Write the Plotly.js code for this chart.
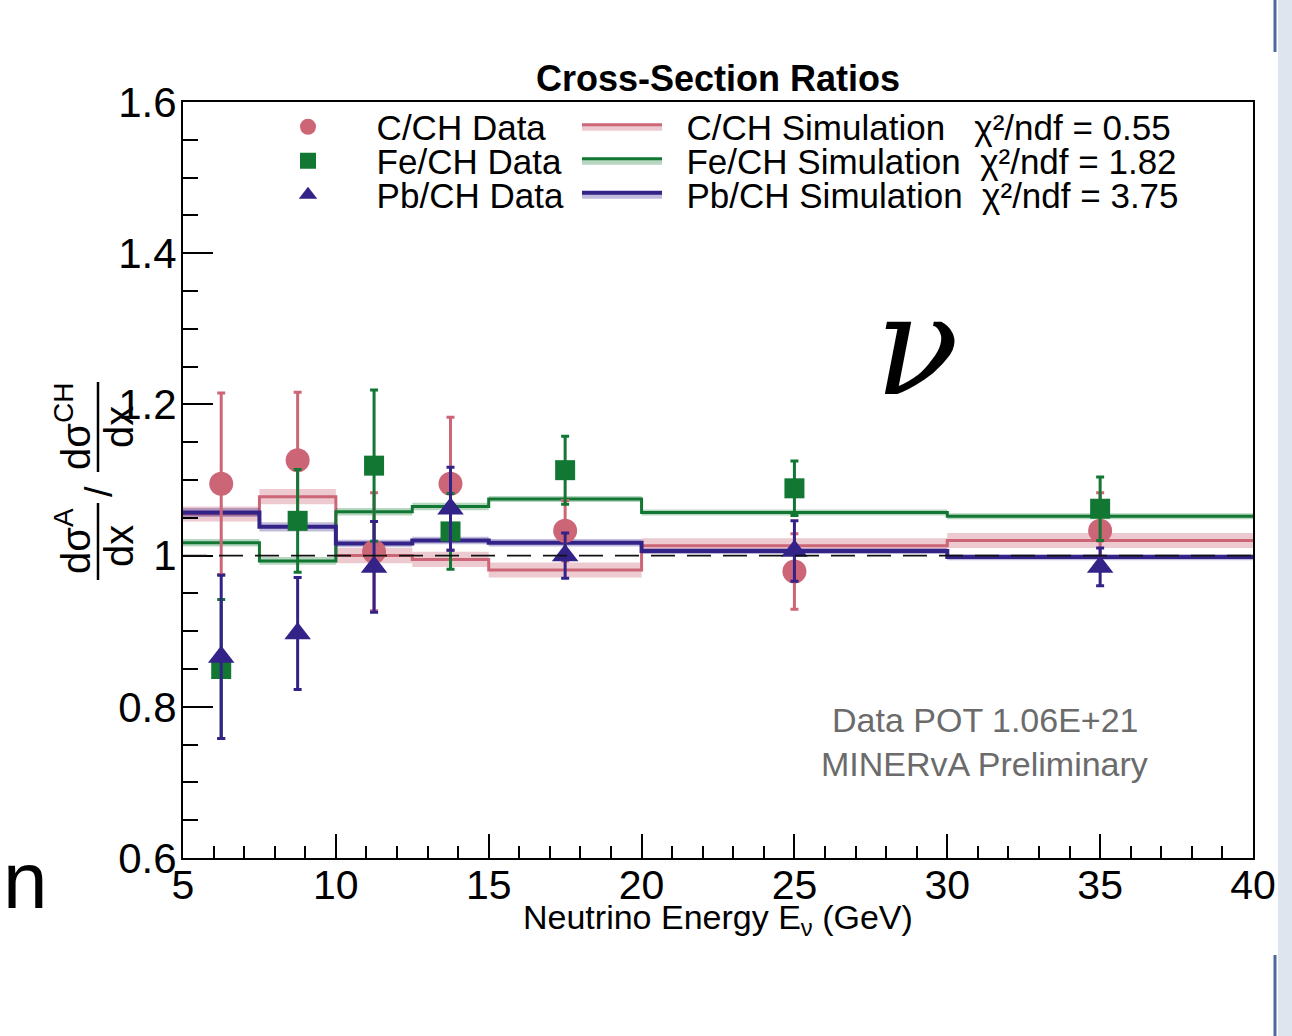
<!DOCTYPE html>
<html>
<head>
<meta charset="utf-8">
<script src="https://cdn.plot.ly/plotly-3.0.1.min.js"></script>
<style>
html, body { margin: 0; padding: 0; background: #ffffff; }
#chart { width: 1292px; height: 1036px; }
</style>
</head>
<body>
<div id="chart"></div>
<script>
// ---- data ----
const binEdges = [5, 7.5, 10, 12.5, 15, 20, 30, 40];
const cSim  = [1.055, 1.078, 1.000, 0.995, 0.981, 1.013, 1.020];
const feSim = [1.017, 0.993, 1.058, 1.065, 1.075, 1.057, 1.052];
const pbSim = [1.057, 1.038, 1.016, 1.020, 1.017, 1.006, 0.998];
const cBand  = [0.010, 0.010, 0.010, 0.010, 0.010, 0.010, 0.010];
const feBand = [0.005, 0.005, 0.005, 0.005, 0.004, 0.004, 0.004];
const pbBand = [0.006, 0.006, 0.005, 0.005, 0.005, 0.004, 0.004];

const energy = [6.25, 8.75, 11.25, 13.75, 17.5, 25, 35];
const cData  = [1.095, 1.126, 1.005, 1.095, 1.033, 0.979, 1.033];
const cErr   = [0.120, 0.090, 0.078, 0.088, 0.040, 0.050, 0.050];
const feData = [0.850, 1.046, 1.119, 1.032, 1.113, 1.089, 1.062];
const feErr  = [0.092, 0.068, 0.100, 0.050, 0.045, 0.036, 0.042];
const pbData = [0.866, 0.897, 0.985, 1.062, 1.000, 1.006, 0.985];
const pbErr  = [0.108, 0.074, 0.060, 0.055, 0.030, 0.040, 0.025];

const dataNames = ['C/CH Data', 'Fe/CH Data', 'Pb/CH Data'];
const simNames  = ['C/CH Simulation', 'Fe/CH Simulation', 'Pb/CH Simulation'];
const chi2      = ['0.55', '1.82', '3.75'];

const xTickVals = [5, 10, 15, 20, 25, 30, 35, 40];
const yTickVals = [0.6, 0.8, 1.0, 1.2, 1.4, 1.6];
const yTickText = ['0.6', '0.8', '1', '1.2', '1.4', '1.6'];

// ---- style ----
const FONT = 'Liberation Sans, Arial, Helvetica, sans-serif';
const colC = '#CC6677', colFe = '#117733', colPb = '#332288';
const bandC = 'rgba(204,102,119,0.35)', bandFe = 'rgba(17,119,51,0.30)', bandPb = 'rgba(51,34,136,0.30)';
const NB = '\u00a0';

function stepY(arr) { return arr.concat([arr[arr.length - 1]]); }
function shift(arr, err, sign) { return arr.map((v, i) => v + sign * err[i]); }

function simTraces(sim, band, color, fillc, width, name, chiTxt, legendId, pad) {
  const lo = shift(sim, band, -1), hi = shift(sim, band, 1);
  return [
    { x: binEdges, y: stepY(lo), mode: 'lines', line: { shape: 'hv', width: 0, color: color },
      showlegend: false, hoverinfo: 'skip' },
    { x: binEdges, y: stepY(sim), mode: 'lines', line: { shape: 'hv', width: width, color: color },
      fill: 'tonexty', fillcolor: fillc,
      name: NB + NB + name + pad + 'χ²/ndf = ' + chiTxt, legend: legendId, hoverinfo: 'skip' },
    { x: binEdges, y: stepY(hi), mode: 'lines', line: { shape: 'hv', width: 0, color: color },
      fill: 'tonexty', fillcolor: fillc, showlegend: false, hoverinfo: 'skip' }
  ];
}

function dataTrace(y, err, color, symbol, size, name, legendId) {
  return {
    x: energy, y: y, mode: 'markers', name: NB.repeat(5) + name, legend: legendId,
    marker: { color: color, symbol: symbol, size: size },
    error_y: { type: 'data', array: err, visible: true, color: color, thickness: 3, width: 4 },
    hoverinfo: 'skip'
  };
}

const traces = [].concat(
  simTraces(cSim, cBand, colC, bandC, 3, simNames[0], chi2[0], 'legend4', NB.repeat(3)),
  simTraces(feSim, feBand, colFe, bandFe, 3, simNames[1], chi2[1], 'legend5', NB.repeat(2)),
  simTraces(pbSim, pbBand, colPb, bandPb, 4, simNames[2], chi2[2], 'legend6', NB.repeat(2)),
  [
    dataTrace(cData, cErr, colC, 'circle', 24, dataNames[0], 'legend'),
    dataTrace(feData, feErr, colFe, 'square', 20, dataNames[1], 'legend2'),
    dataTrace(pbData, pbErr, colPb, 'triangle-up', 23, dataNames[2], 'legend3')
  ]
);

// pixel helpers for decorations (plot area: x 183..1253, y 102..858)
const px = v => (v - 183) / 1070;
const py = v => (858 - v) / 756;

function legendAt(xp, yp, iw) {
  return { x: px(xp), y: py(yp), xanchor: 'left', yanchor: 'middle', xref: 'paper', yref: 'paper',
    bgcolor: 'rgba(0,0,0,0)', borderwidth: 0, itemwidth: iw,
    font: { family: FONT, size: 35, color: '#000' } };
}

function rotText(t, xp, yp, size) {
  return { text: t, xref: 'paper', yref: 'paper', x: px(xp), y: py(yp),
    xanchor: 'center', yanchor: 'middle', showarrow: false, textangle: -90,
    font: { family: FONT, size: size, color: '#000' } };
}

const layout = {
  width: 1292, height: 1036,
  paper_bgcolor: '#ffffff', plot_bgcolor: '#ffffff',
  margin: { l: 183, r: 39, t: 102, b: 178, pad: 0 },
  hovermode: false,
  title: { text: '<b>Cross-Section Ratios</b>', font: { family: FONT, size: 36, color: '#000' },
    x: 0.5, xref: 'paper', xanchor: 'center', y: 1 - 78 / 1036, yref: 'container', yanchor: 'middle' },
  xaxis: {
    range: [5, 40], tickvals: xTickVals, ticktext: xTickVals.map(String),
    ticks: 'inside', ticklen: 24, tickwidth: 2, tickcolor: '#000',
    minor: { dtick: 1, ticks: 'inside', ticklen: 12, tickwidth: 2, tickcolor: '#000', showgrid: false },
    showline: true, linewidth: 2, linecolor: '#000', mirror: true,
    showgrid: false, zeroline: false,
    tickfont: { family: FONT, size: 41, color: '#000' },
    ticklabelstandoff: -10,
    automargin: false
  },
  yaxis: {
    range: [0.6, 1.6], tickvals: yTickVals, ticktext: yTickText,
    ticks: 'inside', ticklen: 30, tickwidth: 2, tickcolor: '#000',
    minor: { dtick: 0.05, tick0: 0.6, ticks: 'inside', ticklen: 15, tickwidth: 2, tickcolor: '#000', showgrid: false },
    showline: true, linewidth: 2, linecolor: '#000', mirror: true,
    showgrid: false, zeroline: false,
    tickfont: { family: FONT, size: 42, color: '#000' },
    ticklabelstandoff: -4,
    automargin: false
  },
  legend:  legendAt(288, 127, 30),
  legend2: legendAt(288, 161, 30),
  legend3: legendAt(288, 195, 30),
  legend4: legendAt(577, 127, 80),
  legend5: legendAt(577, 161, 80),
  legend6: legendAt(577, 195, 80),
  shapes: [
    { type: 'line', xref: 'paper', yref: 'y', x0: 0, x1: 1, y0: 1, y1: 1,
      line: { color: '#111', width: 1.8, dash: '24px,12px' }, layer: 'above' },
    // y-axis title fraction bars
    { type: 'line', xref: 'paper', yref: 'paper', x0: px(98), x1: px(98), y0: py(503), y1: py(580),
      line: { color: '#000', width: 2.5 } },
    { type: 'line', xref: 'paper', yref: 'paper', x0: px(98), x1: px(98), y0: py(382), y1: py(472),
      line: { color: '#000', width: 2.5 } },
    // slide edge decorations on the right
    { type: 'rect', xref: 'paper', yref: 'paper', x0: px(1278), x1: px(1292), y0: py(1036), y1: py(0),
      fillcolor: '#dfe5ee', line: { width: 0 } },
    { type: 'line', xref: 'paper', yref: 'paper', x0: px(1275), x1: px(1275), y0: py(0), y1: py(52),
      line: { color: '#4a6a9e', width: 3 } },
    { type: 'line', xref: 'paper', yref: 'paper', x0: px(1275), x1: px(1275), y0: py(955), y1: py(1036),
      line: { color: '#4a6a9e', width: 3 } }
  ],
  annotations: [
    { text: 'Neutrino Energy E<sub>ν</sub> (GeV)', xref: 'paper', yref: 'paper', x: 0.5, y: py(919),
      xanchor: 'center', yanchor: 'middle', showarrow: false,
      font: { family: FONT, size: 34, color: '#000' } },
    { text: 'Data POT 1.06E+21', xref: 'paper', yref: 'paper', x: px(985), y: py(720),
      xanchor: 'center', yanchor: 'middle', showarrow: false,
      font: { family: FONT, size: 34, color: '#6b6b6b' } },
    { text: 'MINERvA Preliminary', xref: 'paper', yref: 'paper', x: px(984), y: py(764),
      xanchor: 'center', yanchor: 'middle', showarrow: false,
      font: { family: FONT, size: 34, color: '#6b6b6b' } },
    { text: 'ν', xref: 'paper', yref: 'paper', x: px(917), y: py(346),
      xanchor: 'center', yanchor: 'middle', showarrow: false,
      font: { family: 'DejaVu Serif, Liberation Serif, serif', size: 138, color: '#000', style: 'italic' } },
    { text: 'n', xref: 'paper', yref: 'paper', x: px(25), y: py(880),
      xanchor: 'center', yanchor: 'middle', showarrow: false,
      font: { family: FONT, size: 80, color: '#000' } },
    // y-axis title: (dσ^A/dx) / (dσ^CH/dx), rotated
    rotText('dσ<sup>CH</sup>', 73, 427, 40),
    rotText('dx', 119, 427, 40),
    rotText('/', 99, 492, 38),
    rotText('dσ<sup>A</sup>', 73, 541, 40),
    rotText('dx', 119, 546, 40)
  ]
};

Plotly.newPlot('chart', traces, layout, { displayModeBar: false, staticPlot: true });
</script>
</body>
</html>
